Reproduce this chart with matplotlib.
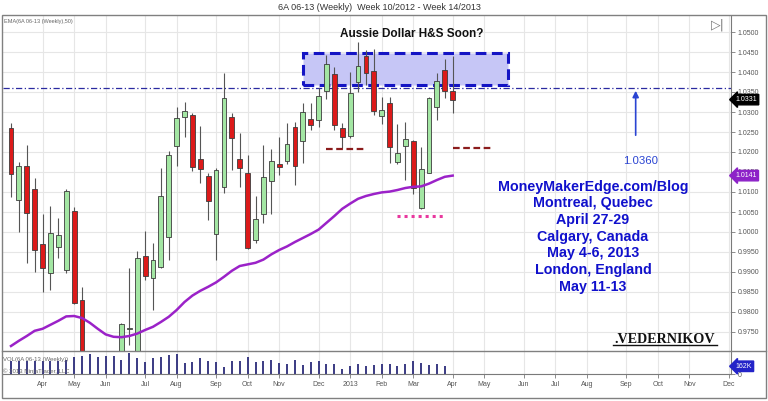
import numpy as np
import pandas as pd
import matplotlib
matplotlib.use('Agg')
import matplotlib.pyplot as plt
import matplotlib.dates as mdates
import matplotlib.transforms as mtransforms
from matplotlib.patches import Rectangle
from matplotlib.lines import Line2D

plt.rcParams['font.family'] = ['Liberation Sans', 'DejaVu Sans']

# weekly bars, Week 10/2012 - Week 14/2013 (dated by the Friday)
bar_dates = pd.date_range('2012-03-09', periods=57, freq='W-FRI')

opens = [1.0261, 1.0080, 1.0165, 1.0107, 0.9970, 0.9897, 0.9962, 0.9905, 1.0053, 0.9830,
         0.9660, 0.9590, 0.9645, 0.9600, 0.9650, 0.9758, 0.9680, 0.9941, 0.9884, 0.9912,
         0.9987, 1.0215, 1.0287, 1.0293, 1.0183, 1.0140, 0.9995, 1.0113, 1.0287, 1.0183,
         1.0147, 0.9980, 1.0045, 1.0128, 1.0170, 1.0178, 1.0263, 1.0228, 1.0282, 1.0280,
         1.0353, 1.0394, 1.0261, 1.0240, 1.0374, 1.0440, 1.0403, 1.0290, 1.0323, 1.0174,
         1.0215, 1.0228, 1.0059, 1.0148, 1.0313, 1.0405, 1.0353]
highs = [1.0273, 1.0176, 1.0218, 1.0136, 1.0045, 1.0065, 1.0034, 1.0107, 1.0063, 0.9863,
         0.9690, 0.9680, 0.9685, 0.9690, 0.9772, 0.9909, 0.9953, 1.0003, 0.9973, 1.0159,
         1.0203, 1.0313, 1.0326, 1.0297, 1.0265, 1.0147, 1.0159, 1.0397, 1.0297, 1.0247,
         1.0193, 1.0090, 1.0218, 1.0207, 1.0238, 1.0272, 1.0276, 1.0323, 1.0323, 1.0359,
         1.0443, 1.0413, 1.0272, 1.0401, 1.0476, 1.0455, 1.0457, 1.0338, 1.0338, 1.0270,
         1.0276, 1.0230, 1.0213, 1.0338, 1.0397, 1.0432, 1.0440]
lows = [1.0088, 0.9999, 0.9922, 0.9899, 0.9851, 0.9855, 0.9934, 0.9897, 0.9820, 0.9640,
        0.9560, 0.9560, 0.9570, 0.9580, 0.9620, 0.9718, 0.9660, 0.9880, 0.9805, 0.9909,
        0.9930, 1.0165, 1.0238, 1.0153, 1.0123, 1.0030, 0.9930, 1.0098, 1.0155, 1.0112,
        0.9958, 0.9973, 1.0022, 1.0045, 1.0143, 1.0170, 1.0118, 1.0172, 1.0255, 1.0262,
        1.0332, 1.0255, 1.0209, 1.0234, 1.0351, 1.0368, 1.0293, 1.0270, 1.0172, 1.0170,
        1.0130, 1.0095, 1.0057, 1.0147, 1.0280, 1.0334, 1.0297]
closes = [1.0145, 1.0165, 1.0048, 0.9955, 0.9910, 0.9997, 0.9993, 1.0103, 0.9823, 0.9665,
          0.9590, 0.9640, 0.9600, 0.9650, 0.9769, 0.9760, 0.9936, 0.9890, 0.9930, 1.0090,
          1.0193, 1.0284, 1.0303, 1.0163, 1.0158, 1.0077, 1.0155, 1.0334, 1.0234, 1.0161,
          0.9961, 1.0032, 1.0138, 1.0178, 1.0163, 1.0219, 1.0165, 1.0301, 1.0268, 1.0340,
          1.0419, 1.0268, 1.0238, 1.0348, 1.0415, 1.0397, 1.0303, 1.0305, 1.0213, 1.0197,
          1.0232, 1.0109, 1.0157, 1.0334, 1.0378, 1.0353, 1.0331]
ema50 = [0.9715, 0.9728, 0.9740, 0.9753, 0.9758, 0.9768, 0.9778, 0.9789, 0.9790, 0.9785,
         0.9773, 0.9758, 0.9744, 0.9738, 0.9737, 0.9740, 0.9746, 0.9755, 0.9763, 0.9775,
         0.9788, 0.9805, 0.9825, 0.9841, 0.9853, 0.9863, 0.9874, 0.9888, 0.9903, 0.9915,
         0.9919, 0.9923, 0.9931, 0.9944, 0.9955, 0.9964, 0.9975, 0.9985, 0.9995, 1.0006,
         1.0023, 1.0040, 1.0058, 1.0071, 1.0083, 1.0090, 1.0095, 1.0099, 1.0101, 1.0105,
         1.0110, 1.0113, 1.0114, 1.0121, 1.0130, 1.0138, 1.0141]
volume_k = [275, 275, 275, 262, 275, 275, 265, 290, 344, 377,
            405, 344, 371, 371, 290, 425, 337, 249, 324, 344,
            385, 405, 236, 249, 337, 263, 249, 142, 276, 276,
            344, 249, 276, 290, 222, 215, 290, 195, 249, 263,
            208, 208, 107, 175, 208, 168, 182, 209, 210, 168,
            209, 263, 223, 195, 200, 162, 0]

price_ticks = np.arange(0.9750, 1.05001, 0.005)
last_price = 1.0331
last_ema = 1.0141
resistance = 1.0360

W, H = 768, 401


def fx(px):
    return px / W


def fy(py):
    return 1 - py / H


x = mdates.date2num(bar_dates)


def wx(k):
    # position k weeks after the first bar
    return x[0] + 7 * k


# month ticks at the first weekly bar of each month
fridays = pd.Series(pd.date_range('2012-03-09', '2013-12-31', freq='W-FRI'))
firsts = fridays.groupby([fridays.dt.year, fridays.dt.month]).first().iloc[1:]
tick_x = mdates.date2num(firsts)
tick_labels = [str(d.year) if d.month == 1 else d.strftime('%b') for d in firsts]

fig = plt.figure(figsize=(7.68, 4.01), dpi=100)
ax = fig.add_axes([fx(3), fy(351), fx(731) - fx(3), (351 - 16) / H])
axv = fig.add_axes([fx(3), fy(374.3), fx(731) - fx(3), (374.3 - 351) / H], sharex=ax)

# candles
o = np.array(opens); c = np.array(closes)
up = c >= o
body = np.where(np.abs(c - o) < 0.00025, np.where(up, 0.00025, -0.00025), c - o)
ax.vlines(x, lows, highs, color='#555555', lw=0.8, zorder=3)
ax.bar(x, body, bottom=o, width=4.3, color=np.where(up, '#a3e6a3', '#dc1a1a'),
       edgecolor='#3c3c3c', linewidth=0.6, zorder=4)
ax.plot(x, ema50, color='#9b22c8', lw=1.8, zorder=5)

# annotations
ax.axhline(resistance, color='#2a2aa0', lw=0.9, ls=(0, (5, 2, 1, 2)), zorder=2)
ax.add_patch(Rectangle((wx(37), 1.03675), wx(63) - wx(37), 1.04467 - 1.03675,
                       facecolor='#c6c6f6', edgecolor='#1414c4', lw=2.2,
                       ls=(0, (3.5, 1.8)), zorder=2.5))
ax.hlines(1.02075, wx(40), wx(44.9), color='#8b1c1c', lw=1.6, ls=(0, (3, 1.6)), zorder=5)
ax.hlines(1.0209, wx(56), wx(60.8), color='#8b1c1c', lw=1.6, ls=(0, (3, 1.6)), zorder=5)
ax.hlines(1.00408, wx(48.96), wx(54.9), color='#e8389e', lw=2.2, ls=(0, (1, 1.3)), zorder=5)
ax.annotate('', xy=(wx(79.2), resistance), xytext=(wx(79.2), 1.0235),
            arrowprops=dict(arrowstyle='-|>', color='#2a44d2', lw=1.2, mutation_scale=9))
ax.text(wx(79.8), 1.0178, '1.0360', color='#2a44d2', fontsize=8.2, ha='center', va='center')

# volume
axv.vlines(x, 0, volume_k, color='#2b2b7a', lw=1.3)

# axes styling
ax.set_xlim(x[0] - 7.1, x[0] + 639)
ax.set_ylim(0.97025, 1.054)
axv.set_ylim(0, 471)
for a in (ax, axv):
    a.set_xticks(tick_x)
    a.grid(True, color='#e6e6e6', lw=0.8, zorder=0)
    a.set_axisbelow(True)
    a.yaxis.tick_right()
    for s in ('top', 'left'):
        a.spines[s].set_visible(False)
    a.spines['right'].set_color('#7a7a7a')
    a.tick_params(axis='y', direction='out', length=3, width=0.6, pad=1.5,
                  labelsize=5, labelcolor='#555555', color='#7a7a7a')
ax.spines['bottom'].set_visible(False)
ax.tick_params(axis='x', length=0, labelbottom=False)
ax.set_yticks(price_ticks)
ax.set_yticklabels([f'{v:.4f}' for v in price_ticks])
axv.set_yticks([0])
axv.set_yticklabels(['0'])
axv.spines['bottom'].set_color('#7a7a7a')
axv.set_xticklabels(tick_labels)
axv.tick_params(axis='x', direction='out', length=3, width=0.6, pad=2,
                labelsize=5, labelcolor='#555555', color='#7a7a7a')

# value tags on the price scale
tr = mtransforms.blended_transform_factory(ax.transAxes, ax.transData)
ax.text(1.006, last_price, f'{last_price:.4f}', transform=tr, fontsize=5, color='white',
        va='center', ha='left', bbox=dict(boxstyle='larrow,pad=0.25', fc='black', ec='black'))
ax.text(1.006, last_ema, f'{last_ema:.4f}', transform=tr, fontsize=5, color='white',
        va='center', ha='left', bbox=dict(boxstyle='larrow,pad=0.25', fc='#8d22c8', ec='#8d22c8'))
trv = mtransforms.blended_transform_factory(axv.transAxes, axv.transData)
axv.text(1.006, volume_k[-2], f'{volume_k[-2]}K', transform=trv, fontsize=5, color='white',
         va='center', ha='left', bbox=dict(boxstyle='larrow,pad=0.25', fc='#2323c8', ec='#2323c8'))

# frame and labels
fig.patches.append(Rectangle((fx(2), fy(398)), fx(766) - fx(2), (398 - 15) / H,
                             transform=fig.transFigure, fill=False, ec='#808080', lw=1))
fig.lines.append(Line2D([fx(2), fx(766)], [fy(351), fy(351)], transform=fig.transFigure,
                        color='#808080', lw=1))
fig.text(fx(379), fy(7), '6A 06-13 (Weekly)  Week 10/2012 - Week 14/2013',
         fontsize=6.5, color='#333333', ha='center', va='center')
fig.text(fx(4), fy(22), 'EMA(6A 06-13 (Weekly),50)', fontsize=4, color='#666666',
         ha='left', va='center')
fig.text(fx(3), fy(360), 'VOL(6A 06-13 (Weekly))', fontsize=4.3, color='#666666',
         ha='left', va='center')
fig.text(fx(3), fy(371.5), '\u00a9 2013 NinjaTrader, LLC', fontsize=4.3, color='#666666',
         ha='left', va='center')
fig.text(fx(718), fy(25), '\u25b7|', fontsize=9, color='#777777', ha='center', va='center',
         family='DejaVu Sans')
fig.text(fx(412), fy(34), 'Aussie Dollar H&S Soon?', fontsize=8.5, fontweight='bold',
         color='#111111', ha='center', va='center')

event_lines = ['MoneyMakerEdge.com/Blog', 'Montreal, Quebec', 'April 27-29', 'Calgary, Canada',
               'May 4-6, 2013', 'London, England', 'May 11-13']
for k, line in enumerate(event_lines):
    fig.text(fx(593), fy(186.7 + 16.7 * k), line, fontsize=10.3, fontweight='bold',
             color='#1010cc', ha='center', va='center')

fig.text(fx(665), fy(339.5), '.VEDERNIKOV', fontsize=10.2, fontweight='bold',
         family='Liberation Serif', color='#111111', ha='center', va='center')
fig.lines.append(Line2D([fx(613), fx(717)], [fy(345), fy(345)], transform=fig.transFigure,
                        color='#111111', lw=1))

fig.savefig('out.png', dpi=100, facecolor='white')
